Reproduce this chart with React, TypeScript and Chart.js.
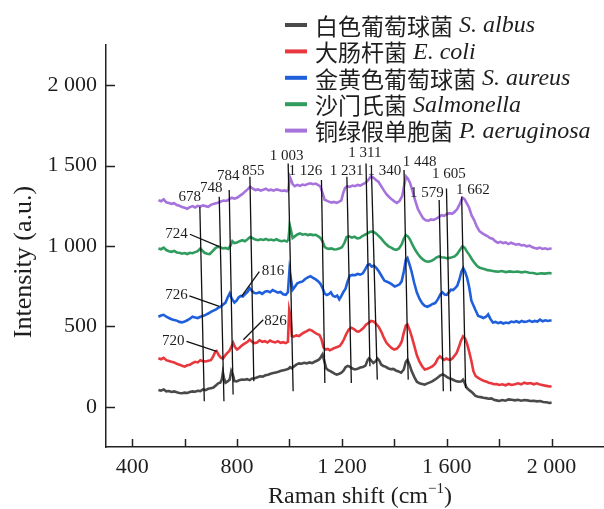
import React, { useEffect, useRef } from "react";
import { Chart, registerables } from "chart.js";

Chart.register(...registerables);

// ---------- data ----------
const seriesNamesCn = ["白色葡萄球菌", "大肠杆菌", "金黄色葡萄球菌", "沙门氏菌", "铜绿假单胞菌"];
const seriesNamesLatin = ["S. albus", "E. coli", "S. aureus", "Salmonella", "P. aeruginosa"];
const seriesColors = ["#4a4a4a", "#e8383d", "#1f5fdc", "#2f9c5e", "#a673dc"];

const xTickValues = [400, 600, 800, 1000, 1200, 1400, 1600, 1800, 2000];
const xTickLabels = ["400", "", "800", "", "1 200", "", "1 600", "", "2 000"];
const yTickValues = [0, 500, 1000, 1500, 2000];
const yTickLabels = ["0", "500", "1 000", "1 500", "2 000"];

const sAlbus: number[][] = [
  [500,105],[510,100],[520,108],[530,96],[540,98],[550,92],[560,96],[570,90],[580,86],[590,84],[600,88],[610,86],[620,92],[630,96],[640,94],[650,100],[660,98],[670,108],[680,104],[690,112],[700,116],[710,120],[720,134],[728,146],[736,150],[742,170],[746,212],[750,180],[756,150],[764,158],[772,170],[778,222],[784,200],[790,160],[798,158],[808,165],[818,170],[828,168],[838,172],[848,166],[858,176],[868,178],[878,184],[888,190],[898,188],[908,196],[918,200],[928,206],[938,210],[948,214],[958,218],[968,224],[978,228],[988,232],[996,236],[1002,246],[1008,240],[1016,250],[1026,262],[1036,270],[1046,268],[1056,274],[1066,270],[1076,276],[1086,272],[1096,280],[1106,288],[1114,296],[1120,310],[1126,326],[1132,290],[1140,240],[1148,228],[1156,222],[1164,214],[1172,206],[1180,200],[1190,206],[1198,212],[1206,224],[1214,246],[1222,254],[1230,250],[1240,238],[1250,232],[1260,236],[1270,244],[1280,248],[1290,256],[1298,290],[1304,302],[1312,288],[1320,272],[1328,282],[1336,300],[1342,290],[1350,262],[1358,254],[1366,250],[1376,240],[1386,234],[1396,236],[1406,226],[1416,220],[1426,212],[1436,232],[1444,280],[1450,292],[1458,262],[1466,222],[1476,186],[1486,156],[1496,146],[1506,142],[1516,138],[1526,146],[1536,152],[1546,160],[1556,170],[1566,182],[1576,196],[1584,202],[1592,196],[1600,186],[1608,178],[1616,174],[1624,168],[1632,162],[1640,158],[1648,156],[1656,158],[1662,168],[1668,150],[1676,118],[1684,106],[1692,96],[1700,84],[1710,68],[1720,62],[1730,60],[1740,56],[1750,54],[1760,50],[1770,52],[1780,44],[1790,40],[1800,36],[1812,42],[1824,38],[1836,46],[1848,44],[1860,40],[1872,44],[1884,38],[1896,42],[1908,40],[1920,36],[1932,38],[1944,34],[1956,36],[1968,30],[1980,28],[1992,24],[2000,26]
];

const sColi: number[][] = [
  [500,302],[510,296],[520,305],[530,290],[540,285],[550,280],[560,276],[570,268],[580,262],[590,255],[600,250],[610,258],[620,262],[630,272],[640,280],[650,276],[660,290],[670,284],[680,282],[690,286],[700,290],[708,310],[716,340],[722,346],[730,322],[738,306],[746,300],[754,318],[762,334],[770,346],[778,372],[785,398],[792,372],[800,356],[808,366],[816,378],[824,388],[832,396],[840,404],[848,418],[856,406],[866,396],[876,400],[886,414],[896,404],[906,408],[916,400],[926,412],[936,404],[946,400],[956,408],[966,398],[976,402],[986,396],[994,404],[999,600],[1004,560],[1009,440],[1016,436],[1026,444],[1036,440],[1046,452],[1056,462],[1066,470],[1076,480],[1086,474],[1096,462],[1106,452],[1114,448],[1122,420],[1130,368],[1138,356],[1146,360],[1154,352],[1162,358],[1172,366],[1182,372],[1192,378],[1200,396],[1208,420],[1216,450],[1226,480],[1236,492],[1246,484],[1256,470],[1264,468],[1272,476],[1282,490],[1292,510],[1302,522],[1312,534],[1322,530],[1332,512],[1340,498],[1350,468],[1360,430],[1370,398],[1380,380],[1390,365],[1400,356],[1410,362],[1420,380],[1428,405],[1436,460],[1444,505],[1450,512],[1458,480],[1466,440],[1476,380],[1486,320],[1496,280],[1506,252],[1516,232],[1526,236],[1536,244],[1546,252],[1556,268],[1566,300],[1574,314],[1582,302],[1590,292],[1598,300],[1606,294],[1614,292],[1622,302],[1630,318],[1638,336],[1646,370],[1654,410],[1662,438],[1670,425],[1678,390],[1686,340],[1694,285],[1702,220],[1710,192],[1720,180],[1730,170],[1740,162],[1750,158],[1760,150],[1770,146],[1780,140],[1790,142],[1800,136],[1812,140],[1824,134],[1836,142],[1848,136],[1860,140],[1872,146],[1884,140],[1896,150],[1908,144],[1920,148],[1932,140],[1944,146],[1956,138],[1968,134],[1980,130],[1992,126],[2000,128]
];

const sAureus: number[][] = [
  [500,560],[510,568],[520,572],[530,560],[540,552],[550,545],[560,540],[570,536],[580,528],[590,525],[600,530],[610,538],[620,548],[630,560],[640,556],[650,552],[660,560],[670,565],[680,572],[690,580],[700,590],[710,598],[720,606],[728,615],[736,622],[746,634],[756,648],[764,680],[772,705],[780,672],[790,648],[798,660],[806,680],[814,690],[822,686],[830,700],[840,715],[848,738],[856,722],[866,708],[876,706],[886,712],[896,702],[906,716],[916,720],[926,712],[936,726],[946,718],[956,710],[966,714],[976,700],[986,696],[994,712],[1000,850],[1006,790],[1012,728],[1020,745],[1030,768],[1040,775],[1050,780],[1060,795],[1070,805],[1080,812],[1090,802],[1100,792],[1110,780],[1118,765],[1126,740],[1134,705],[1142,695],[1150,700],[1158,712],[1166,690],[1174,684],[1182,692],[1190,668],[1198,690],[1206,715],[1214,735],[1222,780],[1230,815],[1240,820],[1250,818],[1260,826],[1270,822],[1280,830],[1290,858],[1298,882],[1306,886],[1314,872],[1322,878],[1332,862],[1342,840],[1352,812],[1362,785],[1372,778],[1382,770],[1392,760],[1402,748],[1412,755],[1420,762],[1428,780],[1436,840],[1444,915],[1450,925],[1458,885],[1466,840],[1476,770],[1486,710],[1496,672],[1506,645],[1516,628],[1526,622],[1536,630],[1546,640],[1556,645],[1566,668],[1576,700],[1584,712],[1592,698],[1600,696],[1608,712],[1616,728],[1624,726],[1632,738],[1640,752],[1648,790],[1656,840],[1663,862],[1670,840],[1678,800],[1686,740],[1694,660],[1702,630],[1710,600],[1720,565],[1730,560],[1740,552],[1750,560],[1758,575],[1766,548],[1776,524],[1786,528],[1796,520],[1806,526],[1816,518],[1826,524],[1836,520],[1846,530],[1856,526],[1866,532],[1876,524],[1886,534],[1896,528],[1906,530],[1916,536],[1926,528],[1936,534],[1946,530],[1956,542],[1966,532],[1976,538],[1986,534],[2000,538]
];

const sSalmonella: number[][] = [
  [500,985],[510,980],[520,990],[530,975],[540,968],[550,964],[560,970],[570,960],[580,958],[590,952],[600,956],[610,950],[620,958],[630,955],[640,962],[650,968],[660,985],[668,970],[676,958],[686,952],[696,950],[706,966],[716,984],[726,996],[736,992],[746,985],[756,988],[766,982],[774,1000],[782,1030],[790,1018],[800,1022],[810,1030],[820,1036],[830,1030],[840,1042],[850,1056],[860,1048],[870,1040],[880,1036],[890,1042],[900,1038],[910,1044],[920,1036],[930,1040],[940,1035],[950,1042],[960,1034],[970,1030],[980,1034],[990,1028],[996,1040],[1001,1130],[1006,1095],[1012,1050],[1020,1060],[1030,1072],[1040,1078],[1050,1070],[1060,1074],[1070,1068],[1080,1072],[1090,1068],[1100,1070],[1110,1060],[1118,1050],[1126,1030],[1134,995],[1142,986],[1150,982],[1160,985],[1170,978],[1180,980],[1190,984],[1200,992],[1210,1020],[1218,1056],[1228,1060],[1238,1052],[1248,1058],[1258,1048],[1268,1050],[1278,1062],[1288,1070],[1298,1078],[1308,1088],[1318,1090],[1328,1080],[1338,1066],[1348,1050],[1358,1030],[1368,1012],[1378,998],[1388,990],[1398,980],[1408,976],[1418,985],[1428,1010],[1436,1045],[1444,1068],[1452,1060],[1460,1040],[1470,1005],[1480,975],[1490,950],[1500,930],[1510,915],[1520,905],[1530,902],[1540,906],[1550,915],[1560,928],[1570,935],[1580,930],[1590,928],[1600,924],[1610,926],[1620,930],[1630,935],[1640,950],[1650,975],[1660,998],[1668,990],[1676,968],[1686,945],[1696,918],[1706,895],[1716,875],[1726,865],[1736,860],[1746,856],[1756,850],[1766,848],[1776,845],[1786,842],[1796,840],[1810,844],[1825,838],[1840,842],[1855,838],[1870,841],[1885,836],[1900,840],[1915,834],[1930,832],[1945,826],[1960,830],[1975,828],[1990,832],[2000,830]
];

const sAeruginosa: number[][] = [
  [500,1285],[510,1278],[520,1290],[530,1272],[540,1268],[550,1262],[560,1266],[570,1255],[580,1250],[590,1243],[600,1238],[610,1232],[620,1242],[630,1248],[640,1240],[650,1250],[660,1246],[670,1252],[680,1248],[690,1244],[700,1256],[710,1262],[720,1266],[730,1270],[740,1278],[750,1283],[760,1280],[770,1290],[780,1300],[790,1294],[800,1300],[810,1312],[820,1322],[830,1338],[840,1352],[850,1368],[860,1356],[870,1348],[880,1352],[890,1345],[900,1350],[910,1356],[920,1346],[930,1350],[940,1344],[950,1352],[960,1348],[970,1342],[980,1346],[990,1340],[996,1350],[1001,1430],[1006,1410],[1012,1385],[1020,1372],[1030,1380],[1040,1374],[1050,1382],[1060,1378],[1070,1386],[1080,1390],[1090,1384],[1100,1388],[1110,1378],[1118,1370],[1126,1330],[1134,1288],[1142,1282],[1150,1276],[1160,1270],[1170,1274],[1180,1268],[1190,1276],[1198,1284],[1205,1330],[1212,1360],[1220,1372],[1230,1368],[1240,1376],[1250,1372],[1260,1380],[1270,1376],[1280,1385],[1290,1392],[1300,1410],[1310,1432],[1320,1425],[1330,1410],[1340,1398],[1350,1372],[1360,1346],[1370,1322],[1380,1305],[1390,1290],[1400,1278],[1410,1268],[1420,1280],[1430,1310],[1438,1380],[1445,1432],[1452,1418],[1460,1392],[1470,1340],[1480,1280],[1490,1230],[1500,1200],[1510,1172],[1520,1160],[1530,1158],[1540,1165],[1550,1162],[1560,1170],[1570,1180],[1580,1192],[1590,1188],[1600,1198],[1610,1204],[1620,1200],[1630,1212],[1640,1230],[1650,1262],[1660,1300],[1668,1292],[1675,1270],[1685,1240],[1695,1190],[1705,1160],[1715,1120],[1725,1092],[1735,1080],[1745,1070],[1755,1062],[1765,1050],[1775,1045],[1785,1030],[1795,1020],[1805,1026],[1815,1018],[1825,1022],[1835,1012],[1845,1020],[1855,1014],[1865,1008],[1875,1012],[1885,1004],[1895,1006],[1905,998],[1915,1002],[1925,994],[1935,988],[1945,984],[1955,990],[1965,982],[1975,986],[1985,980],[1995,984],[2000,982]
];

const seriesData = [sAlbus, sColi, sAureus, sSalmonella, sAeruginosa];

// peak annotations (data coordinates)
const peakValues = [678, 748, 784, 855, 1003, 1126, 1231, 1311, 1340, 1448, 1579, 1605, 1662];
const peakLineTopX = [658, 732, 770, 849, 995, 1122, 1219, 1292, 1313, 1437, 1571, 1599, 1657];
const peakLineTopY = [1244, 1306, 1348, 1430, 1513, 1410, 1430, 1513, 1451, 1472, 1286, 1358, 1306];
const peakLineBottomX = [675, 750, 785, 864, 1014, 1135, 1236, 1307, 1335, 1453, 1587, 1615, 1672];
const peakLineBottomY = [35, 35, 76, 159, 97, 148, 148, 252, 169, 169, 97, 97, 117];
const peakLabelX = [620, 702, 766, 862, 989, 1061, 1218, 1288, 1362, 1497, 1524, 1608, 1700];
const peakLabelY = [1306, 1358, 1437, 1466, 1561, 1468, 1468, 1575, 1468, 1524, 1327, 1447, 1348];

const leaderValues = [724, 726, 720, 816, 826];
const leaderLabelX = [569, 569, 557, 937, 947];
const leaderLabelY = [1073, 692, 411, 845, 535];
const leaderStartX = [620, 618, 607, 885, 900];
const leaderStartY = [1073, 690, 407, 841, 541];
const leaderEndX = [732, 732, 722, 817, 824];
const leaderEndY = [996, 624, 345, 686, 417];

// ---------- helpers ----------
const SERIF = '"Liberation Serif", "Times New Roman", serif';
const CJK = '"Noto Sans CJK SC", sans-serif';
const TEXT = "#1e1e1e";

function fmt(n: number): string {
  if (n < 1000) return String(n);
  return `${Math.floor(n / 1000)} ${String(n % 1000).padStart(3, "0")}`;
}

const decorPlugin = {
  id: "decor",
  afterDatasetsDraw(chart: any) {
    const ctx = chart.ctx;
    const xs = chart.scales.x;
    const ys = chart.scales.y;
    ctx.save();
    ctx.strokeStyle = "#111";
    ctx.lineWidth = 1.3;
    for (let i = 0; i < peakValues.length; i++) {
      ctx.beginPath();
      ctx.moveTo(xs.getPixelForValue(peakLineTopX[i]), ys.getPixelForValue(peakLineTopY[i]));
      ctx.lineTo(xs.getPixelForValue(peakLineBottomX[i]), ys.getPixelForValue(peakLineBottomY[i]));
      ctx.stroke();
    }
    for (let i = 0; i < leaderValues.length; i++) {
      ctx.beginPath();
      ctx.moveTo(xs.getPixelForValue(leaderStartX[i]), ys.getPixelForValue(leaderStartY[i]));
      ctx.lineTo(xs.getPixelForValue(leaderEndX[i]), ys.getPixelForValue(leaderEndY[i]));
      ctx.stroke();
    }
    ctx.fillStyle = TEXT;
    ctx.font = `15px ${SERIF}`;
    ctx.textAlign = "center";
    ctx.textBaseline = "middle";
    for (let i = 0; i < peakValues.length; i++) {
      ctx.fillText(fmt(peakValues[i]), xs.getPixelForValue(peakLabelX[i]), ys.getPixelForValue(peakLabelY[i]));
    }
    for (let i = 0; i < leaderValues.length; i++) {
      ctx.fillText(fmt(leaderValues[i]), xs.getPixelForValue(leaderLabelX[i]), ys.getPixelForValue(leaderLabelY[i]));
    }
    ctx.restore();
  },
  afterDraw(chart: any) {
    const ctx = chart.ctx;
    const xs = chart.scales.x;
    const ys = chart.scales.y;
    const area = chart.chartArea;
    ctx.save();
    // inward ticks
    ctx.strokeStyle = "#222";
    ctx.lineWidth = 1.5;
    for (const v of xTickValues) {
      const px = Math.round(xs.getPixelForValue(v)) + 0.5;
      ctx.beginPath();
      ctx.moveTo(px, area.bottom);
      ctx.lineTo(px, area.bottom - 8);
      ctx.stroke();
    }
    for (const v of yTickValues) {
      const py = Math.round(ys.getPixelForValue(v)) + 0.5;
      ctx.beginPath();
      ctx.moveTo(area.left, py);
      ctx.lineTo(area.left + 9, py);
      ctx.stroke();
    }
    // legend
    ctx.textBaseline = "middle";
    ctx.textAlign = "left";
    for (let i = 0; i < seriesNamesCn.length; i++) {
      const y = 25 + i * 26.4;
      ctx.strokeStyle = seriesColors[i];
      ctx.lineWidth = 4;
      ctx.beginPath();
      ctx.moveTo(285, y);
      ctx.lineTo(307, y);
      ctx.stroke();
      ctx.fillStyle = TEXT;
      ctx.font = `23px ${CJK}`;
      ctx.fillText(seriesNamesCn[i], 315, y + 1);
      const w = ctx.measureText(seriesNamesCn[i]).width;
      ctx.font = `italic 24px ${SERIF}`;
      ctx.fillText(seriesNamesLatin[i], 315 + w + 6, y + 1);
    }
    // x title
    ctx.fillStyle = TEXT;
    ctx.font = `24px ${SERIF}`;
    const p1 = "Raman shift (cm";
    const sup = "\u22121";
    const p2 = ")";
    const w1 = ctx.measureText(p1).width;
    const w3 = ctx.measureText(p2).width;
    ctx.font = `15px ${SERIF}`;
    const w2 = ctx.measureText(sup).width;
    const total = w1 + w2 + w3;
    let sx = 360 - total / 2;
    const ty = 497;
    ctx.font = `24px ${SERIF}`;
    ctx.fillText(p1, sx, ty);
    sx += w1;
    ctx.font = `15px ${SERIF}`;
    ctx.fillText(sup, sx, ty - 8);
    sx += w2;
    ctx.font = `24px ${SERIF}`;
    ctx.fillText(p2, sx, ty);
    // y title
    ctx.translate(24, 262);
    ctx.rotate(-Math.PI / 2);
    ctx.textAlign = "center";
    ctx.font = `26px ${SERIF}`;
    ctx.fillText("Intensity (a.u.)", 0, 0);
    ctx.restore();
  },
};

export default function App() {
  const ref = useRef<HTMLCanvasElement | null>(null);
  useEffect(() => {
    if (!ref.current) return;
    const chart = new Chart(ref.current, {
      type: "line",
      data: {
        datasets: seriesData.map((s, i) => ({
          label: `${seriesNamesCn[i]} ${seriesNamesLatin[i]}`,
          data: s.map((p) => ({ x: p[0], y: p[1] })),
          borderColor: seriesColors[i],
          backgroundColor: seriesColors[i],
          borderWidth: 2.6,
          pointRadius: 0,
          tension: 0,
          fill: false,
        })),
      },
      options: {
        responsive: false,
        animation: false,
        devicePixelRatio: 1,
        layout: { padding: { top: 45, right: 0, bottom: 0, left: 0 } },
        plugins: {
          legend: { display: false },
          title: { display: false },
          tooltip: { enabled: false },
        },
        scales: {
          x: {
            type: "linear",
            min: 300,
            max: 2200,
            afterBuildTicks: (s: any) => {
              s.ticks = xTickValues.map((v) => ({ value: v }));
            },
            afterFit: (s: any) => {
              s.height = 62;
            },
            ticks: {
              autoSkip: false,
              maxRotation: 0,
              padding: 7,
              color: TEXT,
              font: { family: SERIF, size: 22 },
              callback: (_v: any, i: number) => xTickLabels[i],
            },
            grid: { display: false, drawTicks: false },
            border: { display: true, color: "#222", width: 1.5 },
          },
          y: {
            type: "linear",
            min: -250,
            max: 2250,
            afterBuildTicks: (s: any) => {
              s.ticks = yTickValues.map((v) => ({ value: v }));
            },
            afterFit: (s: any) => {
              s.width = 106;
            },
            ticks: {
              autoSkip: false,
              padding: 9,
              color: TEXT,
              font: { family: SERIF, size: 22 },
              callback: (_v: any, i: number) => yTickLabels[i],
            },
            grid: { display: false, drawTicks: false },
            border: { display: true, color: "#222", width: 1.5 },
          },
        },
      },
      plugins: [decorPlugin],
    });
    return () => chart.destroy();
  }, []);
  return (
    <div style={{ position: "fixed", left: 0, top: 0, width: 604, height: 509, background: "#fff" }}>
      <canvas ref={ref} width={604} height={509} />
    </div>
  );
}
